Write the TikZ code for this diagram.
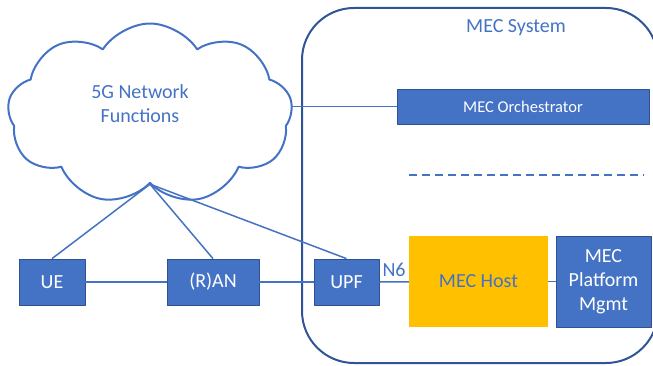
\documentclass[tikz,border=0pt]{standalone}
\usepackage{fontspec}
\setmainfont{Carlito}
\usetikzlibrary{shapes.symbols}
\definecolor{boxblue}{HTML}{4472C4}
\definecolor{edgeblue}{HTML}{2F528F}
\definecolor{sysblue}{HTML}{2F5597}
\definecolor{hostgold}{HTML}{FFC000}
\tikzset{
  blk/.style={draw=edgeblue, fill=boxblue, text=white, inner sep=0pt, line width=0.75pt, align=center},
  lnk/.style={draw=boxblue, line width=1.5pt},
}

\begin{document}
\begin{tikzpicture}[x=1pt, y=-1pt, font=\fontsize{20}{24}\selectfont, line join=round]
	\useasboundingbox (0,0) rectangle (653,366);
	% MEC system frame
	\draw[sysblue, line width=2pt, rounded corners=52pt] (302,8) rectangle (658,363);
	\node[text=boxblue] (sys) at (516,27.5) {MEC System};
	% network side
	\node[cloud, cloud puffs=9, cloud puff arc=115, aspect=1.2, draw=boxblue, line width=2pt,
		minimum width=285pt, minimum height=181pt, inner sep=0pt] (nf) at (150,114) {};
	\node[text=boxblue, align=center] (nflabel) at (140,104) {5G Network\\Functions};
	\node[blk, minimum width=66pt, minimum height=46pt] (ue) at (52,282) {UE};
	\node[blk, minimum width=92pt, minimum height=46pt] (ran) at (213,282) {(R)AN};
	\node[blk, minimum width=65pt, minimum height=46pt] (upf) at (346.5,282) {UPF};
	% MEC side
	\node[blk, minimum width=252pt, minimum height=35pt, font=\fontsize{16.5}{20}\selectfont] (orch) at (523,106.5) {MEC Orchestrator};
	\node[fill=hostgold, text=boxblue, minimum width=139pt, minimum height=91pt, inner sep=0pt] (host) at (478.5,281.5) {MEC Host};
	\node[blk, minimum width=95pt, minimum height=91pt] (mgmt) at (603.5,281.5) {MEC\\Platform\\Mgmt};
	\coordinate (d1) at (409,175);
	\coordinate (d2) at (644,175);
	% links
	\draw[lnk] (nf.south) -- (ue.north);
	\draw[lnk] (nf.south) -- (ran.north);
	\draw[lnk] (nf.south) -- (upf.north);
	\draw[lnk] (nf.east |- orch.west) -- (orch.west);
	\draw[lnk] (ue) -- (ran);
	\draw[lnk] (ran) -- (upf);
	\draw[lnk] (upf) -- node[above=1pt, text=boxblue]{N6} (host);
	\draw[lnk] (host) -- (mgmt);
	\draw[lnk, dash pattern=on 8pt off 5pt] (d1) -- (d2);
\end{tikzpicture}
\end{document}
